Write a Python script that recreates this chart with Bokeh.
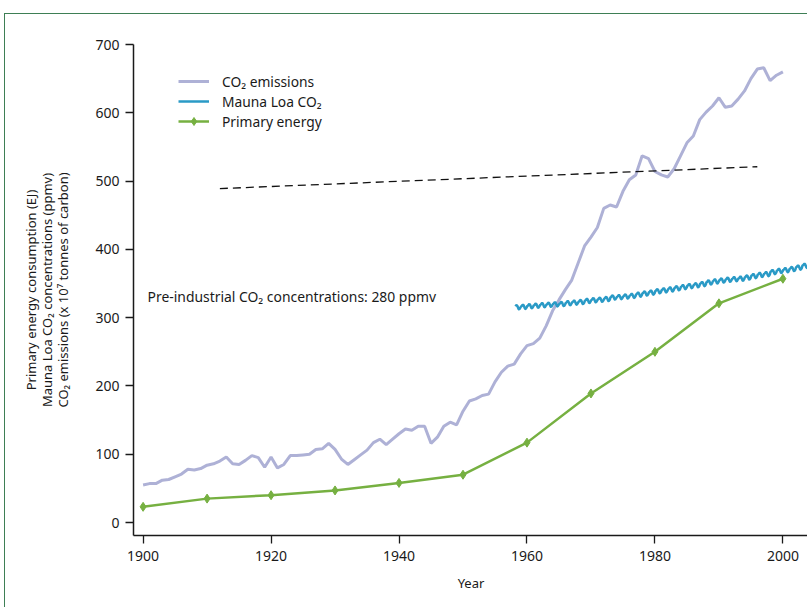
from bokeh.plotting import figure
from bokeh.models import Legend, LegendItem, Label, FixedTicker, Range1d
from bokeh.embed import file_html
from bokeh.resources import INLINE

# CO2 emissions (x 10^7 tonnes of carbon), one value per year 1900-2000
emission_years = list(range(1900, 2001))
co2_emissions = [
    55, 57, 57, 62, 63, 67, 71, 78, 77, 79,
    84, 86, 90, 96, 86, 85, 91, 98, 95, 81,
    96, 80, 85, 98, 98, 99, 100, 107, 108, 116,
    107, 93, 85, 92, 99, 106, 117, 122, 114, 122,
    130, 137, 135, 141, 141, 116, 125, 141, 147, 143,
    163, 178, 181, 186, 188, 206, 220, 229, 232, 247,
    259, 262, 270, 288, 310, 326, 341, 355, 380, 405,
    418, 432, 460, 465, 462, 485, 502, 509, 537, 533,
    514, 509, 506, 518, 537, 556, 566, 590, 601, 610,
    622, 608, 610, 620, 632, 650, 664, 666, 647, 655,
    660,
]

# Primary energy consumption (EJ), by decade
energy_years = [1900, 1910, 1920, 1930, 1940, 1950, 1960, 1970, 1980, 1990, 2000]
primary_energy = [23, 35, 40, 47, 58, 70, 117, 189, 250, 321, 357]

# Mauna Loa CO2 (ppmv): annual means and the mean seasonal cycle by month
mauna_loa_years = list(range(1958, 2005))
mauna_loa_annual = [
    315.3, 315.97, 316.91, 317.64, 318.45, 318.99, 319.62, 320.04, 321.38, 322.16,
    323.04, 324.62, 325.68, 326.32, 327.46, 329.68, 330.19, 331.12, 332.03, 333.84,
    335.41, 336.84, 338.76, 340.12, 341.48, 343.15, 344.85, 346.35, 347.61, 349.31,
    351.69, 353.20, 354.45, 355.70, 356.54, 357.21, 358.96, 360.97, 362.74, 363.88,
    366.84, 368.54, 369.71, 371.32, 373.45, 375.98, 377.70,
]
seasonal_cycle = [0.0, 0.6, 1.3, 2.5, 3.0, 2.3, 0.8, -1.3, -3.0, -3.2, -1.9, -0.8]

ml_x, ml_y = [], []
for yr, mean in zip(mauna_loa_years, mauna_loa_annual):
    first_month = 2 if yr == 1958 else 0
    for m in range(first_month, 12):
        ml_x.append(yr + (m + 0.5) / 12)
        ml_y.append(mean + seasonal_cycle[m])

# Dashed reference line
ref_years = [1912, 1996]
ref_values = [489, 521]

x_ticks = [1900, 1920, 1940, 1960, 1980, 2000]
y_ticks = [0, 100, 200, 300, 400, 500, 600, 700]

FONT = "Noto Sans"
PURPLE = "#aeb1d6"
BLUE = "#2a9ac6"
GREEN = "#76b041"

p = figure(
    width=803, height=594,
    x_range=Range1d(1898.5, 2004.0), y_range=Range1d(-19, 700),
    output_backend="svg", toolbar_location=None,
    min_border_left=128, min_border_right=0, min_border_top=30, min_border_bottom=73,
)
p.styles = {
    "margin-left": "4px", "margin-top": "13px",
    "border-left": "1.5px solid #3e7f55", "border-top": "1.5px solid #3e7f55",
}
p.outline_line_color = None
p.grid.visible = False
p.background_fill_color = "white"
p.border_fill_color = "white"

for ax in (p.xaxis[0], p.yaxis[0]):
    ax.axis_line_color = "#1a1a1a"
    ax.axis_line_width = 1.5
    ax.major_tick_line_color = "#1a1a1a"
    ax.major_tick_line_width = 1.3
    ax.major_tick_out = 8
    ax.major_tick_in = 0
    ax.minor_tick_out = 0
    ax.minor_tick_in = 0
    ax.major_label_text_font = FONT
    ax.major_label_text_font_size = "14px"
    ax.major_label_text_color = "#1a1a1a"
    ax.axis_label_text_font = FONT
    ax.axis_label_text_font_size = "13px"
    ax.axis_label_text_font_style = "normal"
    ax.axis_label_text_color = "#1a1a1a"

p.xaxis.ticker = FixedTicker(ticks=x_ticks)
p.yaxis.ticker = FixedTicker(ticks=y_ticks)
p.xaxis.major_label_standoff = 7
p.yaxis.major_label_standoff = 6
p.xaxis.axis_label = "Year"
p.xaxis.axis_label_standoff = 10
p.yaxis.axis_label = (
    "Primary energy consumption (EJ)\n"
    "Mauna Loa CO\u2082 concentrations (ppmv)\n"
    "CO\u2082 emissions (x 10\u2077 tonnes of carbon)"
)
p.yaxis.axis_label_text_line_height = 0.9
p.yaxis.axis_label_standoff = 20

r_em = p.line(emission_years, co2_emissions, line_color=PURPLE, line_width=3)
r_ml = p.line(ml_x, ml_y, line_color=BLUE, line_width=2.5)
r_pe = p.line(energy_years, primary_energy, line_color=GREEN, line_width=2.5)
r_pe_pts = p.scatter(energy_years, primary_energy, marker="diamond", size=9,
                     fill_color=GREEN, line_color=GREEN)
p.line(ref_years, ref_values, line_color="#111111", line_width=1.3, line_dash="8 5")

p.add_layout(Label(
    x=1900.7, y=331, text="Pre-industrial CO\u2082 concentrations: 280 ppmv",
    text_font=FONT, text_font_size="13.9px", text_baseline="middle",
    text_color="#1a1a1a",
))

legend = Legend(
    items=[
        LegendItem(label="CO\u2082 emissions", renderers=[r_em]),
        LegendItem(label="Mauna Loa CO\u2082", renderers=[r_ml]),
        LegendItem(label="Primary energy", renderers=[r_pe, r_pe_pts]),
    ],
    location=(45, 404),
    glyph_width=31, glyph_height=20, label_height=20, label_standoff=13,
    spacing=0, padding=0, margin=0,
    border_line_color=None, background_fill_alpha=0,
    label_text_font=FONT, label_text_font_size="13.8px", label_text_color="#1a1a1a",
)
p.add_layout(legend)

open("out.html", "w").write(file_html(p, INLINE))
